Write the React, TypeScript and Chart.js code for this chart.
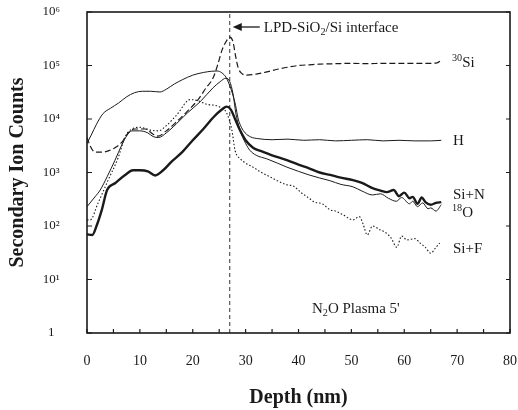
import React, { useEffect, useRef } from 'react';
import { Chart, registerables } from 'chart.js';
Chart.register(...registerables);

// ---- data (depth in nm, secondary ion counts) ----
const si30Depth = [0, 0.7, 1.5, 3, 4.3, 5.5, 6.6, 7.8, 9, 11, 12.5, 13.5, 15, 17, 19, 21, 22.5, 23.9, 24.8, 25.5, 26.3, 27, 27.6, 28.1, 28.6, 29.2, 30.2, 32, 34, 36, 38, 40, 42, 44, 47, 50, 53, 56, 59, 62, 65, 66.2, 67];
const si30Counts = [4500, 3000, 2400, 2400, 2600, 3000, 3700, 5500, 6500, 6500, 5200, 4800, 6000, 9000, 14000, 23000, 38000, 60000, 110000, 190000, 280000, 340000, 280000, 150000, 90000, 72000, 66000, 69000, 76000, 85000, 93000, 100000, 103000, 106000, 108000, 110000, 108000, 110000, 110000, 110000, 110000, 112000, 125000];

const hDepth = [0, 0.8, 1.8, 3, 4.5, 6, 7.5, 9, 10.5, 12, 13.8, 15, 16.5, 18, 20, 22, 23.5, 24.6, 25.5, 26.3, 27, 27.6, 28.1, 28.6, 29.2, 29.9, 31, 32.3, 35, 38, 41, 44, 47, 50, 53, 56, 59, 62, 65, 67];
const hCounts = [3500, 5000, 8000, 12500, 16000, 20000, 26000, 31000, 33000, 33000, 32000, 36000, 45000, 54000, 66000, 74000, 78000, 79000, 73000, 60000, 42000, 28000, 18000, 10000, 7000, 5500, 4600, 4300, 4100, 4200, 4000, 4100, 3900, 4000, 4100, 3900, 4000, 3900, 3900, 4000];

const siNDepth = [0, 1, 1.8, 2.8, 3.8, 5.3, 7.2, 8.7, 10, 11.5, 12.9, 14.4, 16, 18, 20, 22, 24, 25.5, 26.4, 27.2, 28, 29, 30, 31.4, 33, 35, 37.8, 40, 42, 44, 46, 48, 50.3, 52, 54, 55.5, 56.7, 58, 59, 60, 61, 61.6, 62.5, 63.3, 64, 65, 66, 67];
const siNCounts = [70, 68, 100, 200, 470, 630, 900, 1100, 1100, 1050, 880, 1100, 1600, 2400, 4000, 6500, 11000, 15000, 17000, 15000, 10000, 6000, 4000, 2900, 2500, 2100, 1700, 1400, 1200, 1000, 900, 800, 720, 640, 510, 460, 430, 470, 360, 420, 330, 350, 260, 340, 280, 250, 270, 280];

const o18Depth = [0, 1.5, 2.5, 3.8, 5.3, 6.6, 7.6, 8.5, 10, 11.5, 12.5, 13.5, 15, 17.6, 19, 21.4, 23.8, 25.2, 26.3, 27, 27.6, 28.2, 29, 30, 30.8, 32, 34, 36, 37.8, 40, 42, 44, 46, 48, 50.3, 52, 54, 55.5, 57, 58.5, 59.5, 61, 61.6, 62.5, 63.5, 64.5, 65, 66, 67];
const o18Counts = [230, 350, 470, 830, 1700, 3300, 5000, 6000, 6000, 5500, 4700, 4500, 5500, 9500, 13000, 21000, 38000, 50000, 58000, 50000, 30000, 12000, 6000, 3500, 2600, 2100, 1800, 1500, 1260, 1050, 900, 790, 700, 600, 540, 450, 380, 400, 330, 290, 340, 260, 290, 230, 270, 210, 218, 190, 250];

const siFDepth = [0, 0.6, 2.1, 4, 5.9, 7.2, 8.5, 10, 12, 13.5, 15, 17, 19.5, 21, 22.5, 25, 26.4, 27.4, 28, 29, 30, 31.4, 33, 34.6, 36, 37.8, 39, 40.5, 42, 43, 44.5, 46, 47, 48.5, 50.3, 51.5, 52.2, 53, 54, 55.4, 56.5, 57.5, 58.6, 59.5, 60.5, 62, 63, 64, 65, 66, 66.7];
const siFCounts = [130, 130, 270, 720, 1900, 4600, 6500, 7000, 6200, 6000, 7500, 12000, 23000, 22000, 19000, 17000, 13000, 6200, 2600, 1800, 1500, 1260, 1000, 830, 700, 590, 560, 420, 330, 280, 260, 200, 190, 160, 130, 150, 110, 68, 100, 85, 75, 60, 40, 65, 55, 58, 48, 40, 31, 40, 48];

const interfaceDepth = 27;
const xTickValues = [0, 10, 20, 30, 40, 50, 60, 70, 80];
const yTickValues = [1, 10, 100, 1000, 10000, 100000, 1000000];
const yTickLabels = ['1', '10\u00b9', '10\u00b2', '10\u00b3', '10\u2074', '10\u2075', '10\u2076'];

const FONT = '"Liberation Serif", "Times New Roman", serif';
const INK = '#1a1a1a';

const pts = (xs: number[], ys: number[]) => xs.map((x, i) => ({ x, y: ys[i] }));

type Part = { t: string; m?: 'sub' | 'sup' };
function drawRich(ctx: CanvasRenderingContext2D, parts: Part[], x: number, y: number, size: number) {
  let cx = x;
  ctx.textBaseline = 'alphabetic';
  ctx.textAlign = 'left';
  for (const p of parts) {
    const s = p.m ? size * 0.68 : size;
    ctx.font = `${s}px ${FONT}`;
    const dy = p.m === 'sup' ? -size * 0.38 : p.m === 'sub' ? size * 0.22 : 0;
    ctx.fillText(p.t, cx, y + dy);
    cx += ctx.measureText(p.t).width;
  }
}

const decorPlugin = {
  id: 'decor',
  afterDraw(chart: any) {
    const { ctx, chartArea: a, scales } = chart;
    const xs = scales.x, ys = scales.y;
    ctx.save();
    ctx.strokeStyle = INK;
    ctx.fillStyle = INK;
    // frame
    ctx.lineWidth = 1.6;
    ctx.strokeRect(a.left, a.top, a.right - a.left, a.bottom - a.top);
    // inward ticks
    ctx.lineWidth = 1.2;
    ctx.beginPath();
    for (let v = 0; v <= 80; v += 5) {
      const px = xs.getPixelForValue(v);
      ctx.moveTo(px, a.bottom);
      ctx.lineTo(px, a.bottom - 4);
    }
    for (const v of yTickValues) {
      const py = ys.getPixelForValue(v);
      ctx.moveTo(a.left, py);
      ctx.lineTo(a.left + 5, py);
      ctx.moveTo(a.right, py);
      ctx.lineTo(a.right - 4, py);
    }
    ctx.stroke();
    // arrow to interface line
    const ix = xs.getPixelForValue(interfaceDepth);
    const ay = 27;
    ctx.lineWidth = 1.3;
    ctx.beginPath();
    ctx.moveTo(ix + 30, ay);
    ctx.lineTo(ix + 8, ay);
    ctx.stroke();
    ctx.beginPath();
    ctx.moveTo(ix + 3, ay);
    ctx.lineTo(ix + 12, ay - 4);
    ctx.lineTo(ix + 12, ay + 4);
    ctx.closePath();
    ctx.fill();
    // text annotations
    drawRich(ctx, [{ t: 'LPD-SiO' }, { t: '2', m: 'sub' }, { t: '/Si interface' }], ix + 34, ay + 5, 15);
    const lx = 452;
    drawRich(ctx, [{ t: '30', m: 'sup' }, { t: 'Si' }], lx, 67, 15);
    drawRich(ctx, [{ t: 'H' }], lx + 1, 145, 15);
    drawRich(ctx, [{ t: 'Si+N' }], lx + 1, 199, 15);
    drawRich(ctx, [{ t: '18', m: 'sup' }, { t: 'O' }], lx, 217, 15);
    drawRich(ctx, [{ t: 'Si+F' }], lx + 1, 253, 15);
    drawRich(ctx, [{ t: 'N' }, { t: '2', m: 'sub' }, { t: "O Plasma 5'" }], 312, 313, 15);
    ctx.restore();
  },
};

export default function App() {
  const ref = useRef<HTMLCanvasElement>(null);
  useEffect(() => {
    document.body.style.margin = '0';
    const line = (label: string, xs: number[], ys: number[], width: number, dash: number[]) => ({
      label,
      data: pts(xs, ys),
      borderColor: INK,
      borderWidth: width,
      borderDash: dash,
      pointRadius: 0,
      fill: false,
      tension: 0.3,
      cubicInterpolationMode: 'monotone' as const,
    });
    const chart = new Chart(ref.current!, {
      type: 'line',
      data: {
        datasets: [
          line('30Si', si30Depth, si30Counts, 1.2, [6, 3]),
          line('H', hDepth, hCounts, 1, []),
          line('Si+N', siNDepth, siNCounts, 2.4, []),
          line('18O', o18Depth, o18Counts, 1, []),
          line('Si+F', siFDepth, siFCounts, 1.1, [1.5, 2]),
          {
            label: 'interface',
            data: [{ x: interfaceDepth, y: 1 }, { x: interfaceDepth, y: 1000000 }],
            borderColor: '#333',
            borderWidth: 1,
            borderDash: [4, 3],
            pointRadius: 0,
            fill: false,
          },
        ],
      },
      options: {
        responsive: false,
        animation: false,
        layout: { padding: { left: 0, top: 12, right: 8, bottom: 0 } },
        plugins: { legend: { display: false }, tooltip: { enabled: false } },
        scales: {
          x: {
            type: 'linear',
            min: 0,
            max: 80,
            grid: { display: false, drawTicks: false },
            border: { display: false },
            afterBuildTicks: (s: any) => { s.ticks = xTickValues.map((v) => ({ value: v })); },
            afterFit: (s: any) => { s.height = 77; s.paddingLeft = 0; s.paddingRight = 0; },
            ticks: { color: INK, font: { family: FONT, size: 14 }, padding: 20, maxRotation: 0 },
            title: { display: true, text: 'Depth (nm)', color: INK, font: { family: FONT, size: 20, weight: 'bold' }, padding: { top: 0, bottom: 0 } },
          },
          y: {
            type: 'logarithmic',
            min: 1,
            max: 1000000,
            grid: { display: false, drawTicks: false },
            border: { display: false },
            afterBuildTicks: (s: any) => { s.ticks = yTickValues.map((v) => ({ value: v })); },
            afterFit: (s: any) => { s.width = 87; s.paddingTop = 0; s.paddingBottom = 0; },
            ticks: {
              color: INK,
              font: { family: FONT, size: 13 },
              padding: 27,
              crossAlign: 'center',
              callback: (v: any) => yTickLabels[yTickValues.indexOf(Number(v))] ?? '',
            },
            title: { display: true, text: 'Secondary Ion Counts', color: INK, font: { family: FONT, size: 20, weight: 'bold' }, padding: { top: 6, bottom: 0 } },
          },
        },
      },
      plugins: [decorPlugin],
    });
    return () => chart.destroy();
  }, []);
  return (
    <div style={{ width: 518, height: 410, background: '#fff' }}>
      <canvas ref={ref} width={518} height={410} style={{ display: 'block' }} />
    </div>
  );
}
